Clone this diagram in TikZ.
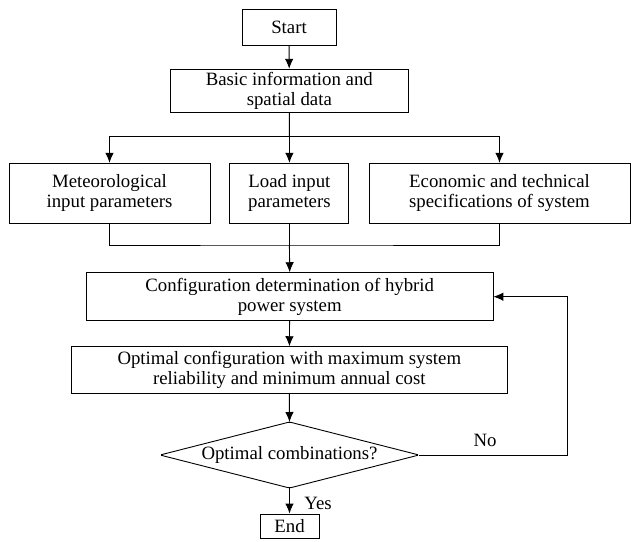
\documentclass[tikz,border=0pt]{standalone}
\usepackage{fontspec}
\setmainfont{Liberation Serif}
\usetikzlibrary{arrows.meta}
\begin{document}
\begin{tikzpicture}[x=1pt,y=-1pt,
  every node/.style={font=\fontsize{18.8}{20.3}\selectfont},
  box/.style={draw,line width=0.9pt,rectangle,align=center,inner sep=0pt},
  arr/.style={line width=0.9pt,-{Latex[length=10pt,width=8.5pt]}},
  ln/.style={line width=0.9pt}]
\useasboundingbox (0,0) rectangle (631,541);
\node[box,minimum width=94pt,minimum height=36pt] (start) at (289,27) {Start};
\node[box,minimum width=238pt,minimum height=43.5pt] (basic) at (289.3,91) {Basic information and\\spatial data};
\node[box,minimum width=201pt,minimum height=60pt] (met) at (109.5,193.3) {Meteorological\\input parameters};
\node[box,minimum width=119pt,minimum height=60pt] (load) at (289.4,193.3) {Load input\\parameters};
\node[box,minimum width=261pt,minimum height=60pt] (econ) at (499.5,193.3) {Economic and technical\\specifications of system};
\node[box,minimum width=406.5pt,minimum height=48pt] (config) at (289.7,296.7) {Configuration determination of hybrid\\power system};
\node[box,minimum width=435.5pt,minimum height=46.6pt] (opt) at (289.3,370) {Optimal configuration with maximum system\\reliability and minimum annual cost};
\node[inner sep=0pt] (dia) at (289.5,455) {Optimal combinations?};
\coordinate (dt) at (289.5,422);
\coordinate (db) at (289.5,488);
\coordinate (dl) at (160,455);
\coordinate (dr) at (419,455);
\draw[ln,rounded corners=1.5pt] (dt) -- (dr) -- (db) -- (dl) -- cycle;
\node[box,minimum width=59pt,minimum height=24pt] (end) at (289.5,526) {End};
\coordinate (br) at (289.4,136);
\coordinate (jn) at (289.4,245);
\coordinate (lp) at (567,455);
\node (no) at (485,440) {No};
\node (yes) at (318,503) {Yes};
\draw[arr] (start) -- (basic);
\draw[ln] (basic.south) -- (br);
\draw[arr] (br) -| (met.north);
\draw[arr] (br) -- (load.north);
\draw[arr] (br) -| (econ.north);
\draw[ln] (met.south) |- (jn) -| (econ.south);
\draw[ln] (load.south) -- (jn);
\draw[arr] (jn) -- (config.north);
\draw[arr] (config) -- (opt);
\draw[arr] (opt.south) -- (dt);
\draw[arr] (db) -- (end.north);
\draw[arr] (dr) -- (lp) |- (config.east);
\end{tikzpicture}
\end{document}
